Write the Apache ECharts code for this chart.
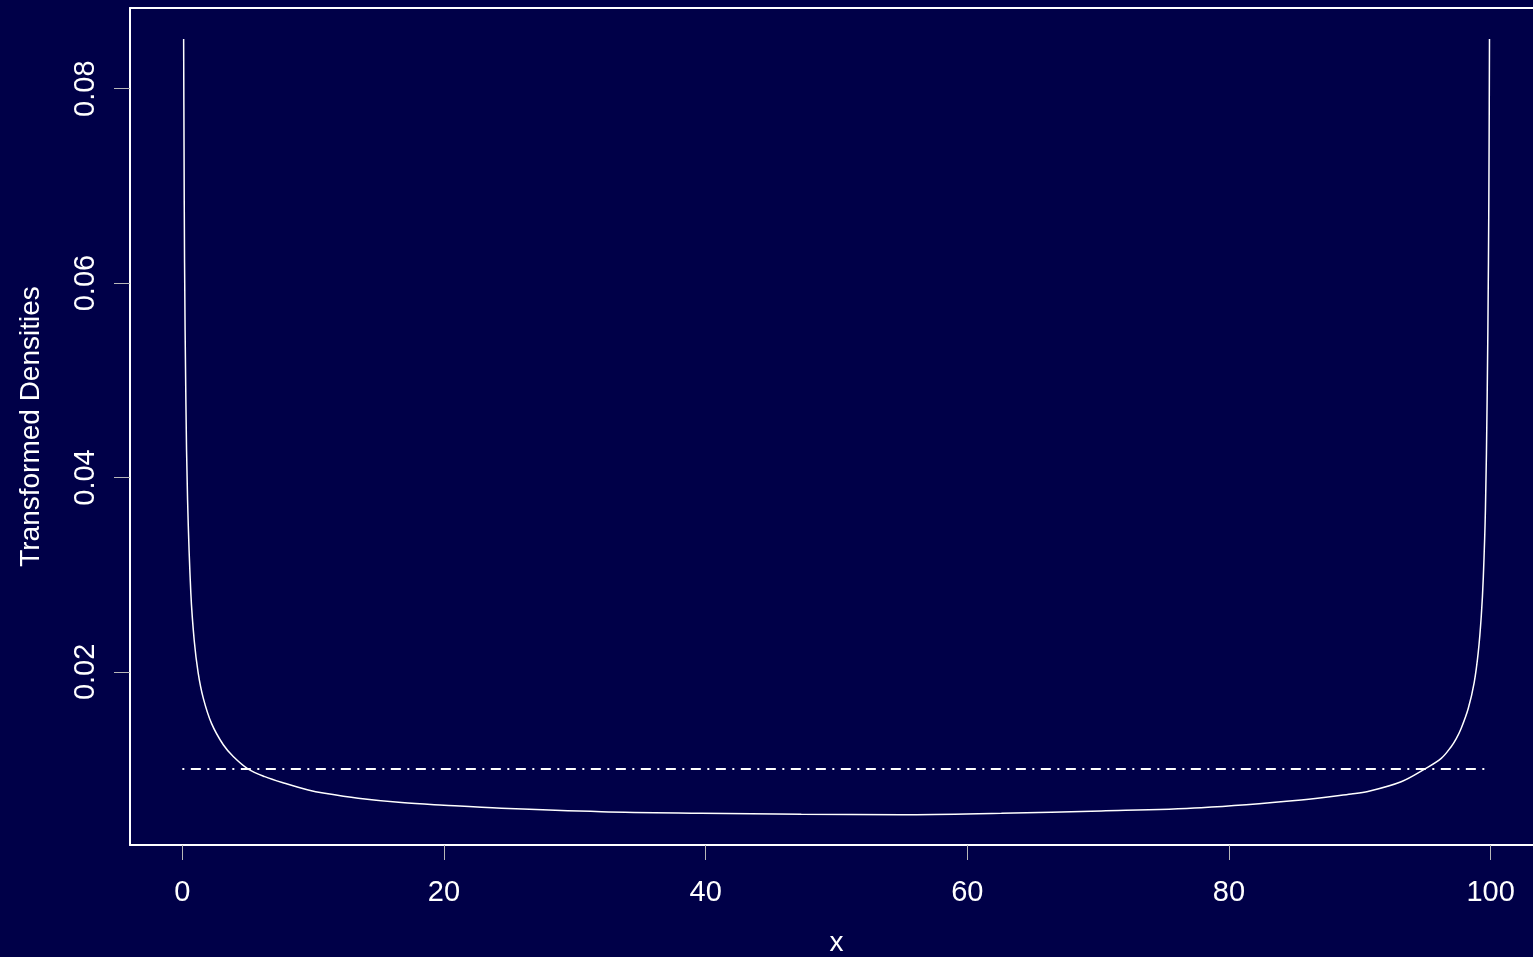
<!DOCTYPE html>
<html>
<head>
<meta charset="utf-8">
<script src="https://cdn.jsdelivr.net/npm/echarts@6/dist/echarts.min.js"></script>
<style>
  html, body { margin: 0; padding: 0; background: #000048; overflow: hidden; }
  #chart { width: 1533px; height: 957px; }
</style>
</head>
<body>
<div id="chart"></div>
<script>
// Transformed density curve (x in percent, y density)
const densityX = [0.10, 0.13, 0.17, 0.27, 0.40, 0.65, 0.91, 1.21, 1.60, 2.23, 3.13, 3.89, 5.04, 6.30, 7.83, 9.62, 10.89, 13.44, 16.75, 20.00, 24.39, 32.03, 39.67, 47.31, 54.96, 62.60, 70.24, 77.88, 85.52, 89.34, 90.62, 93.16, 94.95, 96.22, 96.98, 97.36, 97.75, 98.28, 98.74, 99.05, 99.28, 99.44, 99.60, 99.73, 99.83, 99.88, 99.91];
const densityY = [0.0851, 0.0741, 0.0621, 0.0480, 0.0377, 0.0281, 0.0232, 0.0199, 0.0173, 0.0147, 0.0125, 0.0113, 0.0100, 0.00922, 0.00854, 0.00785, 0.00751, 0.00700, 0.00655, 0.00628, 0.00597, 0.00562, 0.00546, 0.00535, 0.00531, 0.00546, 0.00569, 0.00603, 0.00682, 0.00744, 0.00770, 0.00870, 0.0100, 0.0111, 0.0123, 0.0131, 0.0142, 0.0162, 0.0189, 0.0220, 0.0257, 0.0298, 0.0367, 0.0480, 0.0621, 0.0741, 0.0851];

// Uniform reference density
const uniformX = [0, 100];
const uniformY = [0.01, 0.01];

// Tick labels
const xTicks = [0, 20, 40, 60, 80, 100];
const yTicks = [0.02, 0.04, 0.06, 0.08];

const zip = (a, b) => a.map((v, i) => [v, b[i]]);

const FONT = '"Liberation Sans", Arial, sans-serif';
const FRAME = { show: true, onZero: false, lineStyle: { color: '#ffffff', width: 2 } };
const chart = echarts.init(document.getElementById('chart'), null, { renderer: 'canvas' });

chart.setOption({
  backgroundColor: '#000048',
  animation: false,
  grid: {
    // the plot frame runs past the right edge of the canvas
    left: 130, top: 8, right: -10, height: 837,
    outerBoundsMode: 'none', containLabel: false, show: false
  },
  xAxis: [
    {
      type: 'value', min: -4, max: 104, position: 'bottom',
      name: 'x', nameLocation: 'middle', nameGap: 84,
      nameTextStyle: { color: '#ffffff', fontSize: 28, fontFamily: FONT },
      axisLine: FRAME,
      splitLine: { show: false },
      axisTick: { show: true, length: 15, customValues: xTicks, lineStyle: { color: '#b8b8b8', width: 1 } },
      axisLabel: { customValues: xTicks, color: '#ffffff', fontSize: 29, fontFamily: FONT, margin: 33 }
    },
    {
      // top edge of the plot frame
      type: 'value', min: -4, max: 104, position: 'top',
      axisLine: FRAME, axisTick: { show: false }, axisLabel: { show: false }, splitLine: { show: false }
    }
  ],
  yAxis: {
    type: 'value', min: 0.00219, max: 0.0883, position: 'left',
    name: 'Transformed Densities', nameLocation: 'middle', nameGap: 85, nameRotate: 90,
    nameTextStyle: { color: '#ffffff', fontSize: 28, fontFamily: FONT },
    axisLine: FRAME,
    splitLine: { show: false },
    axisTick: { show: true, length: 16, customValues: yTicks, lineStyle: { color: '#b8b8b8', width: 1 } },
    axisLabel: {
      customValues: yTicks, rotate: 90, color: '#ffffff', fontSize: 29, fontFamily: FONT, margin: 30,
      formatter: v => v.toFixed(2)
    }
  },
  series: [
    {
      type: 'line', data: zip(densityX, densityY), showSymbol: false,
      smooth: 0.35,
      lineStyle: { color: '#ffffff', width: 1.5 }
    },
    {
      type: 'line', data: zip(uniformX, uniformY), showSymbol: false,
      lineStyle: { color: '#ffffff', width: 2, type: [2, 6.5, 10, 6.5] }
    }
  ]
});
</script>
</body>
</html>
